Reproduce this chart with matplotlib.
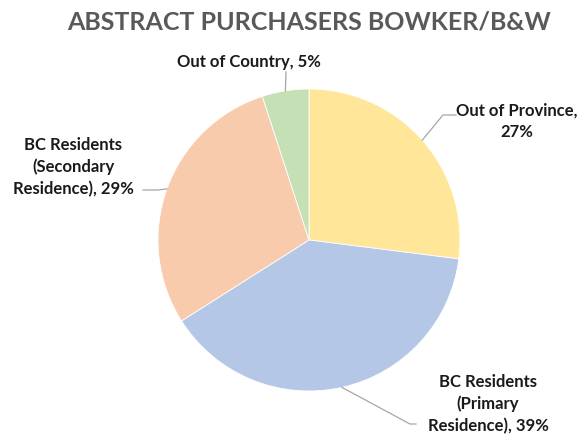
import numpy as np
import matplotlib
matplotlib.use('Agg')
import matplotlib.pyplot as plt

plt.rcParams['font.family'] = ['Lato', 'DejaVu Sans']

# data, clockwise from 12 o'clock
labels = ['Out of Province,\n27%', 'BC Residents\n(Primary\nResidence), 39%',
          'BC Residents\n(Secondary\nResidence), 29%', 'Out of Country, 5%']
shares = [27, 39, 29, 5]
colors = ['#FFE699', '#B4C7E7', '#F8CBAD', '#C5E0B4']

W, H = 585, 435
fig = plt.figure(figsize=(W / 100, H / 100), dpi=100)
ax = fig.add_axes([0, 0, 1, 1])

cx, cy, r = 309, H - 241, 151
wedges, _ = ax.pie(shares, colors=colors, startangle=90, counterclock=False,
                   center=(cx, cy), radius=r, frame=True,
                   wedgeprops=dict(edgecolor='white', linewidth=0.6))
ax.set_xlim(0, W)
ax.set_ylim(0, H)
ax.set_aspect('equal')
ax.axis('off')

def edge(w):
    ang = np.deg2rad((w.theta1 + w.theta2) / 2)
    return cx + r * np.cos(ang), cy + r * np.sin(ang)

# label text positions (pixel coords from top) and leader bends
text_pos = [(517, 121), (488, 404), (73, 167), (249, 62)]
leaders = [[(443, 116), (456, 116)],
           [(410, 425), (416, 425)],
           [(158, 191), (143, 191)],
           [(286, 73)]]

for w, lab, (tx, ty), pts in zip(wedges, labels, text_pos, leaders):
    ax.text(tx, H - ty, lab, ha='center', va='center', fontsize=12,
            fontweight='bold', color='#1a1a1a', linespacing=1.4)
    ex, ey = edge(w)
    xs = [ex] + [p[0] for p in pts]
    ys = [ey] + [H - p[1] for p in pts]
    ax.plot(xs, ys, color='#A6A6A6', lw=0.9)

ax.text(309, H - 21.5, 'ABSTRACT PURCHASERS BOWKER/B&W', ha='center',
        va='center', fontsize=18, fontweight='bold', color='#595959')

fig.savefig('out.png', dpi=100)
